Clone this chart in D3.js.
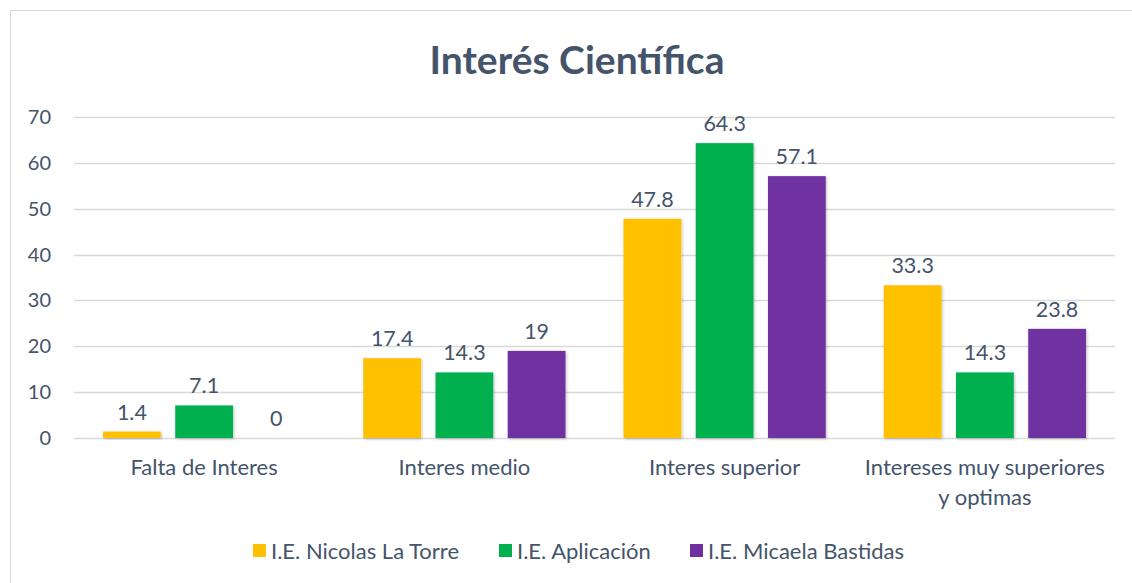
<!DOCTYPE html>
<html>
<head>
<meta charset="utf-8">
<script src="https://cdn.jsdelivr.net/npm/d3@7"></script>
<style>
  body { margin: 0; background: #fff; }
  svg text { font-family: Lato, "Open Sans", sans-serif; fill: #44546A; }
</style>
</head>
<body>
<div id="container"></div>
<script>
/* DATA */
const categories = ["Falta de Interes", "Interes medio", "Interes superior", "Intereses muy superiores y optimas"];
const seriesNames = ["I.E. Nicolas La Torre", "I.E. Aplicación", "I.E. Micaela Bastidas"];
const nicolasValues = [1.4, 17.4, 47.8, 33.3];
const aplicacionValues = [7.1, 14.3, 64.3, 14.3];
const micaelaValues = [0, 19, 57.1, 23.8];
const yTicks = [0, 10, 20, 30, 40, 50, 60, 70];
const colors = ["#FFC000", "#00B050", "#7030A0"];

const width = 1132, height = 583;
const margin = { top: 117, bottom: 145, left: 74, right: 17 };

const seriesValues = [nicolasValues, aplicacionValues, micaelaValues];
const data = categories.map((c, i) => ({
  cat: c,
  vals: seriesNames.map((s, j) => ({ series: s, idx: j, value: seriesValues[j][i] }))
}));

const svg = d3.select("#container").append("svg")
  .attr("width", width)
  .attr("height", height);

// chart border
svg.append("rect")
  .attr("x", 10.5).attr("y", 10.5)
  .attr("width", 1140).attr("height", 600)
  .attr("fill", "none")
  .attr("stroke", "#D9D9D9")
  .attr("stroke-width", 1);

/* SCALES */
const xScale = d3.scaleBand()
  .domain(categories)
  .range([margin.left, width - margin.right])
  .paddingInner(0)
  .paddingOuter(0);

const inner = d3.scaleBand()
  .domain(d3.range(seriesNames.length))
  .range([29, xScale.bandwidth() - 29])
  .paddingInner(0.2);

const yScale = d3.scaleLinear()
  .domain([0, 70])
  .range([height - margin.bottom, margin.top]);

// gridlines
svg.append("g")
  .selectAll("line")
  .data(yTicks)
  .join("line")
  .attr("x1", margin.left)
  .attr("x2", width - margin.right)
  .attr("y1", d => Math.round(yScale(d)) + 0.5)
  .attr("y2", d => Math.round(yScale(d)) + 0.5)
  .attr("stroke", "#D9D9D9")
  .attr("stroke-width", 1.3);

// y tick labels
svg.append("g")
  .selectAll("text")
  .data(yTicks)
  .join("text")
  .attr("x", 51)
  .attr("y", d => yScale(d))
  .attr("dy", "0.35em")
  .attr("text-anchor", "end")
  .style("font-size", "20px")
  .text(d => d);

// shadow
const defs = svg.append("defs");
const f = defs.append("filter").attr("id", "shadow")
  .attr("x", "-10%").attr("y", "-10%").attr("width", "130%").attr("height", "130%");
f.append("feDropShadow")
  .attr("dx", 1).attr("dy", 1).attr("stdDeviation", 1.5)
  .attr("flood-color", "#000").attr("flood-opacity", 0.25);

const groups = svg.append("g")
  .selectAll("g")
  .data(data)
  .join("g")
  .attr("transform", d => `translate(${xScale(d.cat)},0)`);

groups.selectAll("rect")
  .data(d => d.vals)
  .join("rect")
  .attr("x", d => inner(d.idx))
  .attr("width", inner.bandwidth())
  .attr("y", d => yScale(d.value))
  .attr("height", d => yScale(0) - yScale(d.value))
  .attr("fill", d => colors[d.idx])
  .attr("filter", "url(#shadow)");

groups.selectAll("text.val")
  .data(d => d.vals)
  .join("text")
  .attr("class", "val")
  .attr("x", d => inner(d.idx) + inner.bandwidth() / 2)
  .attr("y", d => yScale(d.value) - 12)
  .attr("text-anchor", "middle")
  .style("font-size", "21.5px")
  .text(d => d.value);

// category labels (wrapped)
const wrapLines = {
  "Intereses muy superiores y optimas": ["Intereses muy superiores", "y optimas"]
};
const catLabels = svg.append("g")
  .selectAll("text")
  .data(categories)
  .join("text")
  .attr("x", d => xScale(d) + xScale.bandwidth() / 2)
  .attr("y", 475)
  .attr("text-anchor", "middle")
  .style("font-size", "22px");

catLabels.each(function(d) {
  const lines = wrapLines[d] || [d];
  d3.select(this).selectAll("tspan")
    .data(lines)
    .join("tspan")
    .attr("x", xScale(d) + xScale.bandwidth() / 2)
    .attr("dy", (l, i) => i === 0 ? 0 : 30)
    .text(l => l);
});

// title
svg.append("text")
  .attr("x", 577)
  .attr("y", 74)
  .attr("text-anchor", "middle")
  .style("font-size", "39px")
  .style("font-weight", "bold")
  .text("Interés Científica");

// legend
const legendX = [253, 499, 690];
const legend = svg.append("g")
  .selectAll("g")
  .data(seriesNames)
  .join("g")
  .attr("transform", (d, i) => `translate(${legendX[i]},551)`);

legend.append("rect")
  .attr("x", 0).attr("y", -7)
  .attr("width", 13).attr("height", 13)
  .attr("fill", (d, i) => colors[i]);

legend.append("text")
  .attr("x", 18)
  .attr("y", 0)
  .attr("dy", "0.35em")
  .style("font-size", "22px")
  .text(d => d);
</script>
</body>
</html>
